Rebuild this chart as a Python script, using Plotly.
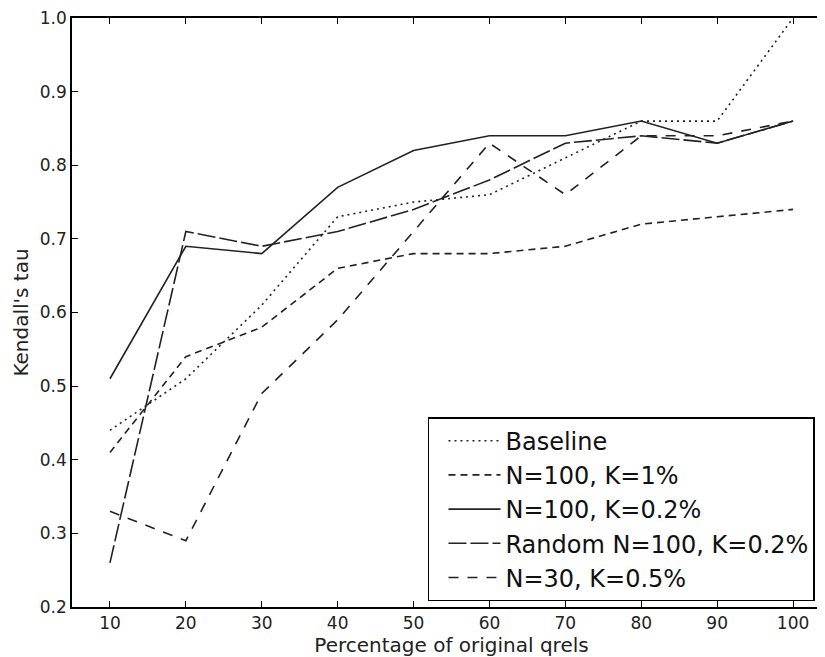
import plotly.graph_objects as go

pct = [10, 20, 30, 40, 50, 60, 70, 80, 90, 100]
baseline = [0.44, 0.51, 0.61, 0.73, 0.75, 0.76, 0.81, 0.86, 0.86, 1.00]
n100_k1 = [0.41, 0.54, 0.58, 0.66, 0.68, 0.68, 0.69, 0.72, 0.73, 0.74]
n100_k02 = [0.51, 0.69, 0.68, 0.77, 0.82, 0.84, 0.84, 0.86, 0.83, 0.86]
random_n100 = [0.26, 0.71, 0.69, 0.71, 0.74, 0.78, 0.83, 0.84, 0.83, 0.86]
n30_k05 = [0.33, 0.29, 0.49, 0.59, 0.71, 0.83, 0.76, 0.84, 0.84, 0.86]

series = [
    ("Baseline", baseline, "2px,4px"),
    ("N=100, K=1%", n100_k1, "7px,5px"),
    ("N=100, K=0.2%", n100_k02, "solid"),
    ("Random N=100, K=0.2%", random_n100, "18px,4px"),
    ("N=30, K=0.5%", n30_k05, "10px,9px"),
]

fig = go.Figure()
for name, vals, dash in series:
    fig.add_trace(go.Scatter(
        x=pct, y=vals, name=name, mode="lines",
        line=dict(color="#222", width=1.6, dash=dash),
    ))

axis_common = dict(
    showline=True, linecolor="black", linewidth=1.5, mirror="ticks",
    ticks="inside", ticklen=6, tickcolor="black", tickwidth=1,
    showgrid=False, zeroline=False, ticklabeloverflow="allow",
    tickfont=dict(family="DejaVu Sans", size=17, color="#222"),
)
title_font = dict(family="DejaVu Sans", size=20, color="#222")

fig.update_xaxes(
    range=[5, 105], tickvals=pct,
    title=dict(text="Percentage of original qrels", standoff=2, font=title_font),
    **axis_common,
)
fig.update_yaxes(
    range=[0.2, 1.0], dtick=0.1, tickformat=".1f",
    title=dict(text="Kendall's tau", standoff=6, font=title_font),
    **axis_common,
)

# top margin leaves room for the "1.0" label
fig.update_layout(
    width=825, height=657,
    margin=dict(l=64, r=2, t=10, b=58, autoexpand=False),
    plot_bgcolor="white", paper_bgcolor="white",
    legend=dict(
        x=0.469, y=0.01, xanchor="left", yanchor="bottom",
        bordercolor="black", borderwidth=1.5, bgcolor="white",
        font=dict(family="DejaVu Sans", size=24, color="#111"),
        indentation=14, itemwidth=52, tracegroupgap=0,
    ),
)

fig.write_html("out.html")
